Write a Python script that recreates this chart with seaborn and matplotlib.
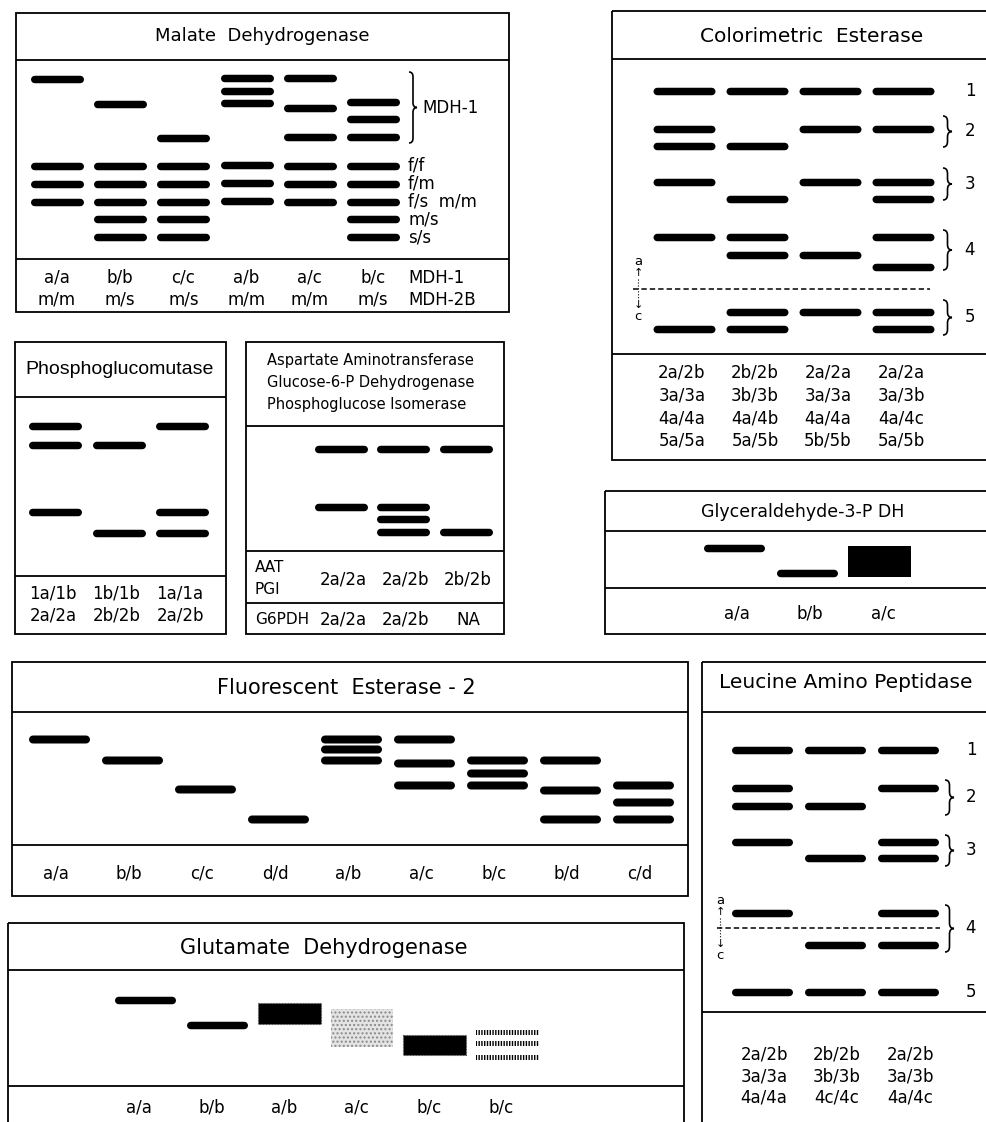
import numpy as np
import pandas as pd
import seaborn as sns
import matplotlib.pyplot as plt
from matplotlib.patches import Rectangle, PathPatch
from matplotlib.path import Path

# band mobilities = pixels below the gel origin line, one list per lane
mdh_row1 = ["a/a", "b/b", "c/c", "a/b", "a/c", "b/c"]
mdh_row2 = ["m/m", "m/s", "m/s", "m/m", "m/m", "m/s"]
mdh_bands = [[19, 106, 124, 142],
             [44, 106, 124, 142, 159, 177],
             [78, 106, 124, 142, 159, 177],
             [18, 31, 43, 105, 123, 141],
             [18, 48, 77, 106, 124, 142],
             [42, 59, 77, 106, 124, 142, 159, 177]]
mdh2_labels = ["f/f", "f/m", "f/s  m/m", "m/s", "s/s"]
mdh2_pos = [106, 124, 142, 159, 177]

ce_rows = [["2a/2b", "2b/2b", "2a/2a", "2a/2a"],
           ["3a/3a", "3b/3b", "3a/3a", "3a/3b"],
           ["4a/4a", "4a/4b", "4a/4a", "4a/4c"],
           ["5a/5a", "5a/5b", "5b/5b", "5a/5b"]]
ce_bands = [[32, 70, 87, 123, 178, 270],
            [32, 87, 140, 178, 196, 253, 270],
            [32, 70, 123, 196, 253],
            [32, 70, 123, 140, 178, 208, 253, 270]]
ce_loci = ["1", "2", "3", "4", "5"]
ce_locus_span = [(32, 32), (57, 88), (109, 141), (171, 211), (241, 276)]

pgm_row1 = ["1a/1b", "1b/1b", "1a/1a"]
pgm_row2 = ["2a/2a", "2b/2b", "2a/2b"]
pgm_bands = [[29, 48, 115], [48, 136], [29, 115, 136]]

aat_title = ["Aspartate Aminotransferase", "Glucose-6-P Dehydrogenase",
             "Phosphoglucose Isomerase"]
aat_row = ["2a/2a", "2a/2b", "2b/2b"]
g6pdh_row = ["2a/2a", "2a/2b", "NA"]
aat_bands = [[23, 81], [23, 81, 93, 106], [23, 106]]

gap_row = ["a/a", "b/b", "a/c"]
gap_bands = [[17], [42], []]
gap_smear = (15, 46)  # lane a/c, heavy smear

fe_row = ["a/a", "b/b", "c/c", "d/d", "a/b", "a/c", "b/c", "b/d", "c/d"]
fe_bands = [[27], [48], [77], [107], [27, 37, 48], [27, 51, 73],
            [48, 61, 73], [48, 78, 107], [73, 90, 107]]

gdh_row = ["a/a", "b/b", "a/b", "a/c", "b/c", "b/c"]
gdh_bands = [[30], [55], [], [], [], []]
gdh_block_lane = [2, 3, 4]
gdh_block_top = [33, 39, 65]
gdh_block_bottom = [54, 77, 85]
gdh_block_shade = ["dark", "light", "dark"]
gdh_faint_lane = 5
gdh_faint_bands = [62, 73, 87]

lap_rows = [["2a/2b", "2b/2b", "2a/2b"],
            ["3a/3a", "3b/3b", "3a/3b"],
            ["4a/4a", "4c/4c", "4a/4c"]]
lap_bands = [[38, 76, 94, 130, 201, 280],
             [38, 94, 146, 233, 280],
             [38, 76, 130, 146, 201, 233, 280]]
lap_loci = ["1", "2", "3", "4", "5"]
lap_locus_span = [(38, 38), (68, 103), (123, 154), (193, 240), (280, 280)]

sns.set_theme(style="white")
plt.rcParams["font.family"] = ["DejaVu Sans"]
plt.rcParams["text.color"] = "black"

W, H = 987, 1122
fig = plt.figure(figsize=(W / 100, H / 100), dpi=100)
LW = 1.3
LAB = 12


def panel(x0, y0, x1, y1, seps):
    ax = fig.add_axes([x0 / W, 1 - y1 / H, (x1 - x0) / W, (y1 - y0) / H])
    ax.set_xlim(x0, x1)
    ax.set_ylim(y1, y0)
    ax.axis("off")
    ax.add_patch(Rectangle((x0, y0), x1 - x0, y1 - y0, fill=False,
                           edgecolor="black", lw=LW, clip_on=False))
    ax.hlines(seps, x0, x1, color="black", lw=LW, clip_on=False)
    return ax


def band_marker(width, thick):
    r = thick / width
    t = np.linspace(-np.pi / 2, np.pi / 2, 9)
    right = np.column_stack([1 - r + r * np.cos(t), r * np.sin(t)])
    left = np.column_stack([-1 + r - r * np.cos(t), -r * np.sin(t)])
    return np.vstack([right, left, right[:1]])


def draw_bands(ax, lane_x, bands, top, width, thick=7.5):
    df = pd.DataFrame([(x, top + m) for x, lane in zip(lane_x, bands) for m in lane],
                      columns=["x", "y"])
    sns.scatterplot(data=df, x="x", y="y", ax=ax, marker=band_marker(width, thick),
                    s=(width * 0.72) ** 2, color="black", linewidth=0, legend=False)


def brace(ax, x, y0, y1, w=8):
    ym = (y0 + y1) / 2
    r = min(w * 0.6, (y1 - y0) / 4)
    xm = x + w / 2
    verts = [(x, y0), (xm, y0), (xm, y0 + r), (xm, ym - r), (xm, ym), (x + w, ym),
             (xm, ym), (xm, ym + r), (xm, y1 - r), (xm, y1), (x, y1)]
    codes = [Path.MOVETO, Path.CURVE3, Path.CURVE3, Path.LINETO, Path.CURVE3,
             Path.CURVE3, Path.CURVE3, Path.CURVE3, Path.LINETO, Path.CURVE3, Path.CURVE3]
    ax.add_patch(PathPatch(Path(verts, codes), fill=False, edgecolor="black", lw=1.2))


def direction(ax, x, y):
    ax.text(x, y - 27, "a", ha="center", va="center", fontsize=9.5)
    ax.text(x, y - 16, "↑", ha="center", va="center", fontsize=8)
    ax.plot([x, x], [y - 10, y + 10], ls=":", lw=0.8, color="black")
    ax.text(x, y + 16, "↓", ha="center", va="center", fontsize=8)
    ax.text(x, y + 28, "c", ha="center", va="center", fontsize=9.5)


def text_row(ax, xs, y, labels, size=LAB):
    for x, s in zip(xs, labels):
        ax.text(x, y, s, ha="center", va="center", fontsize=size)


# Malate Dehydrogenase
ax = panel(16, 13, 509, 312, [60, 259])
ax.text(262, 36, "Malate  Dehydrogenase", ha="center", va="center", fontsize=13)
lx = 57 + 63.2 * np.arange(len(mdh_row1))
draw_bands(ax, lx, mdh_bands, 60, 53)
for p, s in zip(mdh2_pos, mdh2_labels):
    ax.text(408, 60 + p, s, ha="left", va="center", fontsize=LAB)
brace(ax, 409, 72, 143, 8)
ax.text(422, 108, "MDH-1", ha="left", va="center", fontsize=LAB)
text_row(ax, lx, 278, mdh_row1)
text_row(ax, lx, 300, mdh_row2)
ax.text(408, 278, "MDH-1", ha="left", va="center", fontsize=LAB)
ax.text(408, 300, "MDH-2B", ha="left", va="center", fontsize=LAB)

# Colorimetric Esterase
ax = panel(612, 11, 995, 460, [59, 354])
ax.text(812, 37, "Colorimetric  Esterase", ha="center", va="center", fontsize=14.5)
lx = 684 + 73 * np.arange(len(ce_bands))
draw_bands(ax, lx, ce_bands, 59, 62)
ax.plot([633, 930], [289, 289], ls="--", lw=1.1, color="black", dashes=(3.5, 2))
direction(ax, 638, 289)
for s, (a, b) in zip(ce_loci, ce_locus_span):
    if a != b:
        brace(ax, 943, 59 + a, 59 + b, 9)
    ax.text(970, 59 + (a + b) / 2, s, ha="center", va="center", fontsize=12)
for i, row in enumerate(ce_rows):
    text_row(ax, lx - 2, 373 + 22.6 * i, row)

# Phosphoglucomutase
ax = panel(15, 342, 226, 634, [397, 576])
ax.text(120, 370, "Phosphoglucomutase", ha="center", va="center", fontsize=14,
        family="Liberation Sans")
lx = 55 + 63.5 * np.arange(len(pgm_bands))
draw_bands(ax, lx, pgm_bands, 397, 53)
text_row(ax, lx - 2, 593, pgm_row1)
text_row(ax, lx - 2, 615, pgm_row2)

# AAT / G6PDH / PGI
ax = panel(246, 342, 504, 634, [426, 551, 603])
for i, s in enumerate(aat_title):
    ax.text(267, 360 + 22.5 * i, s, ha="left", va="center", fontsize=10.5)
lx = 341 + 62.5 * np.arange(len(aat_bands))
draw_bands(ax, lx, aat_bands, 426, 53)
ax.text(255, 567, "AAT", ha="left", va="center", fontsize=11)
ax.text(255, 590, "PGI", ha="left", va="center", fontsize=11)
ax.text(255, 620, "G6PDH", ha="left", va="center", fontsize=11)
text_row(ax, lx + 2, 579, aat_row)
text_row(ax, lx + 2, 620, g6pdh_row)

# Glyceraldehyde-3-P DH
ax = panel(605, 491, 995, 634, [531, 588])
ax.text(803, 512, "Glyceraldehyde-3-P DH", ha="center", va="center", fontsize=12.5)
lx = 734 + 73 * np.arange(len(gap_row))
draw_bands(ax, lx, gap_bands, 531, 61)
ax.bar(lx[2], gap_smear[1] - gap_smear[0], width=63, bottom=531 + gap_smear[0],
       color="black", linewidth=0)
text_row(ax, lx + 3, 613, gap_row)

# Fluorescent Esterase - 2
ax = panel(12, 662, 688, 896, [712, 845])
ax.text(346, 688, "Fluorescent  Esterase - 2", ha="center", va="center", fontsize=15)
lx = 59 + 73 * np.arange(len(fe_row))
draw_bands(ax, lx, fe_bands, 712, 61, 8)
text_row(ax, lx - 3, 873, fe_row)

# Glutamate Dehydrogenase
ax = panel(8, 923, 684, 1135, [970, 1086])
ax.text(324, 948, "Glutamate  Dehydrogenase", ha="center", va="center", fontsize=15)
lx = 145 + 72.5 * np.arange(len(gdh_row))
draw_bands(ax, lx, gdh_bands, 970, 61)
for ln, t, b, shade in zip(gdh_block_lane, gdh_block_top, gdh_block_bottom, gdh_block_shade):
    if shade == "dark":
        ax.bar(lx[ln], b - t, width=63, bottom=970 + t, color="black",
               edgecolor="#555555", linewidth=0.8, linestyle=":")
    else:
        ax.bar(lx[ln], b - t, width=62, bottom=970 + t, color="#e4e4e4",
               edgecolor="#8a8a8a", hatch="....", linewidth=0)
for m in gdh_faint_bands:
    ax.bar(lx[gdh_faint_lane], 5, width=63, bottom=970 + m - 2.5, color="white",
           edgecolor="black", hatch="||||||", linewidth=0)
text_row(ax, lx - 6, 1108, gdh_row)

# Leucine Amino Peptidase
ax = panel(702, 662, 995, 1135, [712, 1012])
ax.text(846, 683, "Leucine Amino Peptidase", ha="center", va="center", fontsize=14.5)
lx = 762 + 73 * np.arange(len(lap_bands))
draw_bands(ax, lx, lap_bands, 712, 61)
ax.plot([717, 940], [928, 928], ls="--", lw=1.1, color="black", dashes=(3.5, 2))
direction(ax, 720, 928)
for s, (a, b) in zip(lap_loci, lap_locus_span):
    if a != b:
        brace(ax, 945, 712 + a, 712 + b, 9)
    ax.text(971, 712 + (a + b) / 2, s, ha="center", va="center", fontsize=12)
for i, row in enumerate(lap_rows):
    text_row(ax, lx + 2, 1055 + 21.5 * i, row)

fig.savefig("out.png", dpi=100, facecolor="white")
